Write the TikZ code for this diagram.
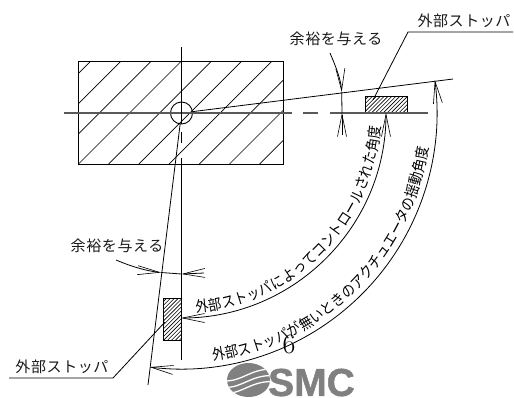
\documentclass[tikz,border=0pt]{standalone}
\usepackage{fontspec}
\usetikzlibrary{arrows.meta,decorations.text,calc}
\newfontfamily\cjk[FakeStretch=0.88]{Noto Sans CJK JP}
\newfontfamily\cjkwide[LetterSpace=4]{Noto Sans CJK JP}
\newfontfamily\logofont[FakeBold=1.2]{Liberation Sans Bold}
\definecolor{logogray}{HTML}{808080}
\tikzset{
  x=1pt,y=-1pt,
  ln/.style={line width=0.8pt,black},
  axisline/.style={line width=1.1pt,black!65},
  hatchline/.style={line width=0.65pt,black},
  box/.style={draw,line width=0.9pt,inner sep=0,outer sep=0,minimum width=#1},
  lab/.style={inner sep=0,outer sep=0,font=\cjkwide\fontsize{15}{15}\selectfont,text=black!90},
  barb/.tip={Straight Barb[length=22pt,width=9pt,line width=0.6pt]},
  arctext/.style={decorate,decoration={text along path,text align={fit to path},text={#1}}}
}
\begin{document}
\begin{tikzpicture}
\useasboundingbox (0,0) rectangle (514,397);
% hatching
\begin{scope}
  \clip (78.5,61) rectangle (283.5,164);
  \foreach \k in {-3,...,6}
    \draw[hatchline] ({242.5+\k*30.2-164},164) -- ({242.5+\k*30.2-61},61);
\end{scope}
\begin{scope}
  \clip (365,96) rectangle (407,113);
  \foreach \k in {0,...,16}
    \draw[hatchline,line width=0.6pt] ({461+\k*3.9-113},113) -- ({461+\k*3.9-96},96);
\end{scope}
\begin{scope}
  \clip (163.5,298) rectangle (181.5,340);
  \foreach \k in {0,...,16}
    \draw[hatchline,line width=0.6pt] ({461+\k*3.9-340},340) -- ({461+\k*3.9-298},298);
\end{scope}
% bodies
\node[box=205pt,minimum height=103pt] (body) at (181,112.5) {};
\node[box=42pt,minimum height=17pt] (stopR) at (386,104.5) {};
\node[box=18pt,minimum height=42pt] (stopB) at (172.5,319) {};
\node[draw,circle,line width=0.9pt,minimum size=22pt,inner sep=0,outer sep=0] (hub) at (181.5,113) {};
% axes
\coordinate (hL) at (64,113);
\coordinate (hR) at (291.5,113);
\draw[axisline] (hL) -- (hR);
\draw[axisline] (303,113) -- (318,113);
\draw[axisline] (330,113) -- (428,113);
\coordinate (vT) at (181.5,47);
\coordinate (vB) at (181.5,360);
\draw[ln] (vT) -- (181.5,124);
\draw[ln] (181.5,131.5) -- (181.5,143);
\draw[ln] (181.5,158) -- (vB);
% limit lines
\coordinate (rimR) at (453,79);
\coordinate (rimB) at (148,385);
\draw[ln] (hub.7) -- (rimR);
\draw[ln] (hub.263) -- (rimB);
% leaders
\coordinate (lead1a) at (513,32);
\coordinate (lead1b) at (408,32);
\coordinate (lead1c) at (373,100);
\draw[ln] (lead1a) -- (lead1b) -- (lead1c);
\coordinate (lead2a) at (9,378);
\coordinate (lead2b) at (113,378);
\coordinate (lead2c) at (165,322);
\draw[ln] (lead2a) -- (lead2b) -- (lead2c);
% labels
\node[lab] (topstop) at (464,21) {外部ストッパ};
\node[lab] (topgive) at (336,39) {余裕を与える};
\node[lab] (botgive) at (117,246) {余裕を与える};
\node[lab] (botstop) at (62,367) {外部ストッパ};
% margin dimension, top
\coordinate (g1a) at (330,53);
\coordinate (g1b) at (341.7,92);
\coordinate (g1c) at (342,113);
\coordinate (g1d) at (342,135);
\draw[ln,-{barb}] (g1a) .. controls (336,67) and (341,80) .. (g1b);
\draw[ln] (g1b) -- (g1c);
\draw[ln,-{barb}] (g1d) -- (g1c);
% margin dimension, bottom
\coordinate (g2a) at (116,260);
\coordinate (g2b) at (161,272.5);
\coordinate (g2c) at (181.5,274);
\coordinate (g2d) at (204,273);
\draw[ln,-{barb}] (g2a) .. controls (130,266) and (146,271) .. (g2b);
\draw[ln] (g2b) -- (g2c);
\draw[ln,-{barb}] (g2d) -- (g2c);
% angle arcs
\coordinate (c) at (181,113);
\draw[ln,{barb}-{barb}] ($(c)+(90:205)$) arc[start angle=90,end angle=0,radius=205];
\draw[ln,{barb}-{barb}] ($(c)+(97:256)$) arc[start angle=97,end angle=-7.4,radius=256];
\path[arctext={|\cjk\fontsize{15}{15}\selectfont|外部ストッパによってコントロールされた角度}]
  ($(c)+(85.7:200)$) arc[start angle=85.7,end angle=3.8,radius=200];
\path[arctext={|\cjk\fontsize{15}{15}\selectfont|外部ストッパが無いときのアクチュエータの揺動角度}]
  ($(c)+(82.6:250)$) arc[start angle=82.6,end angle=8,radius=250];
% page number
\node[inner sep=0,outer sep=0,font=\fontsize{28}{28}\selectfont,text=black] (pageno) at (289,344.5) {6};
% logo
\begin{scope}
  \clip (248.5,380) ellipse [x radius=21.5,y radius=17];
  \fill[logogray] (227,363) rectangle (270,397);
  \foreach \y in {369,375.5,381.5}
    \draw[white,line width=1.3pt] (225,\y+12) .. controls (243,\y+12) and (250,\y) .. (272,\y);
\end{scope}
\node[inner sep=0,outer sep=0,text=logogray,font=\logofont\fontsize{39}{39}\selectfont] (logo) at (311.5,382.5) {SMC};
\end{tikzpicture}
\end{document}
